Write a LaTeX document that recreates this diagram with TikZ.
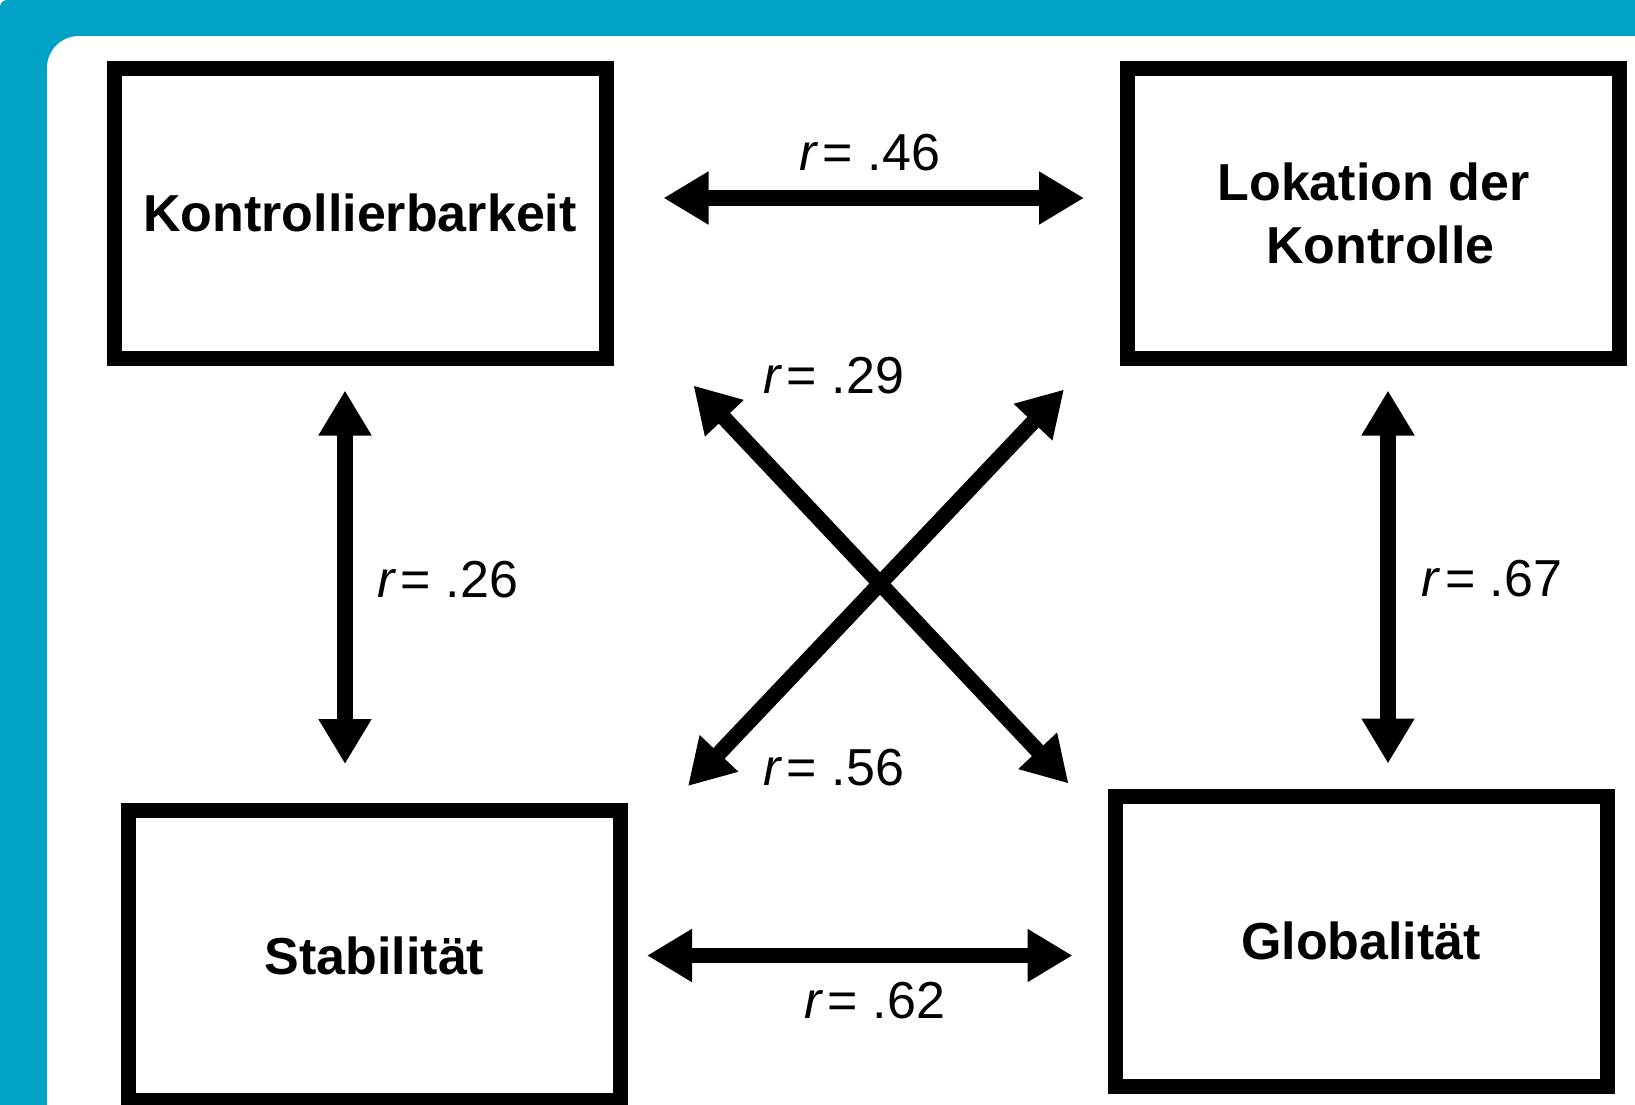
\documentclass[tikz,border=0pt]{standalone}
\usepackage{fontspec}
\setmainfont{Liberation Sans}
\usetikzlibrary{arrows.meta}
\definecolor{framecyan}{RGB}{0,161,198}
\newcommand{\rval}[1]{\textit{r}\kern4pt= #1}
\tikzset{
  factor/.style={draw, line width=15pt, minimum width=492pt, minimum height=290pt,
    inner sep=0pt, align=center, font=\fontsize{52}{63}\selectfont\bfseries},
  corr/.style={line width=15.5pt,
    {Triangle[length=45pt,width=50pt]}-{Triangle[length=45pt,width=50pt]}},
  rlabel/.style={inner sep=0pt, font=\fontsize{52}{60}\selectfont},
}
\begin{document}
\begin{tikzpicture}[x=1pt,y=-1pt]
    \useasboundingbox (0,0) rectangle (1635,1104);
    \fill[white] (0,0) rectangle (1635,1104);
    \fill[framecyan, rounded corners=7pt] (0,0) rectangle (1700,1200);
    \fill[white, rounded corners=32pt] (47,36) rectangle (1700,1200);
    \node[factor] (kon) at (360,213) {Kontrollierbarkeit};
    \node[factor] (lok) at (1373.5,213) {Lokation der\\\hspace*{14pt}Kontrolle};
    \node[factor] (sta) at (374.5,955.5) {Stabilität};
    \node[factor] (glo) at (1361,941) {Globalität};
    \draw[corr, shorten <=50pt, shorten >=36pt] ([yshift=15pt]kon.east) -- ([yshift=15pt]kon.east -| lok.west);
    \draw[corr, shorten <=19pt, shorten >=35pt] (sta.east) -- (sta.east -| glo.west);
    \draw[corr, shorten <=25pt, shorten >=39pt] ([xshift=-15pt]kon.south) -- ([xshift=-15pt]kon.south |- sta.north);
    \draw[corr, shorten <=25pt, shorten >=25pt] ([xshift=14.5pt]lok.south) -- ([xshift=14.5pt]lok.south |- glo.north);
    \draw[corr] ([shift={(80,20)}]kon.south east) -- ([shift={(-39,-5)}]glo.north west);
    \draw[corr] ([shift={(60,-17)}]sta.north east) -- ([shift={(-56,24)}]lok.south west);
    \node[rlabel] (r46) at (870,153) {\rval{.46}}; %
    \node[rlabel] (r29) at (834,376) {\rval{.29}};
    \node[rlabel] (r56) at (834,768) {\rval{.56}};
    \node[rlabel] (r26) at (448,580) {\rval{.26}};
    \node[rlabel] (r67) at (1492,579) {\rval{.67}}; %
    \node[rlabel] (r62) at (875,1001) {\rval{.62}};
\end{tikzpicture}
\end{document}
